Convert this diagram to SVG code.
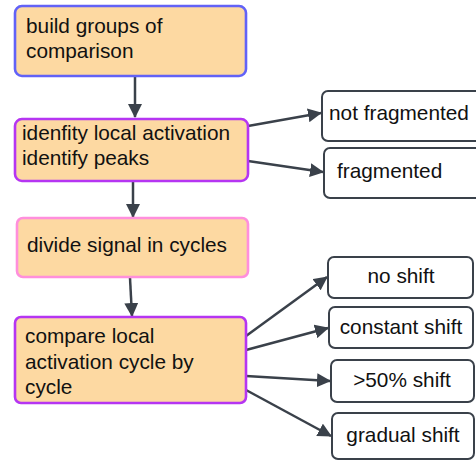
<svg xmlns="http://www.w3.org/2000/svg" width="476" height="462" viewBox="0 0 476 462">
<style>
text{font-family:"Liberation Sans",Arial,sans-serif;font-size:20.8px;fill:#111}
.main{fill:#fdd9a2;stroke-width:2.6}
.leaf{fill:#fff;stroke:#3a414a;stroke-width:2}
.c{text-anchor:middle}
.edge{stroke:#3a414a;stroke-width:2.5;fill:none;marker-end:url(#ah)}
</style>
<defs>
<marker id="ah" viewBox="0 0 14 14" refX="13" refY="7" markerWidth="14" markerHeight="14" markerUnits="userSpaceOnUse" orient="auto">
<path d="M0,0 L14,7 L0,14 z" fill="#3a414a"/>
</marker>
</defs>
<g id="connectors">
<line class="edge" x1="135" y1="77" x2="135" y2="117"/>
<line class="edge" x1="133" y1="182" x2="133" y2="217"/>
<line class="edge" x1="130" y1="278" x2="132" y2="316"/>
<line class="edge" x1="248" y1="126" x2="321" y2="113"/>
<line class="edge" x1="248" y1="161" x2="323" y2="172"/>
<line class="edge" x1="246" y1="336" x2="327" y2="277"/>
<line class="edge" x1="246" y1="350" x2="328" y2="328"/>
<line class="edge" x1="246" y1="376" x2="330" y2="381"/>
<line class="edge" x1="246" y1="390" x2="331" y2="436"/>
</g>
<g id="n1"><rect class="main" x="15" y="6" width="231" height="70" rx="7" stroke="#6262f7"/>
<text x="26" y="33">build groups of</text><text x="26" y="58">comparison</text></g>
<g id="n2"><rect class="main" x="15" y="119" width="233" height="62" rx="7" stroke="#b535f2"/>
<text x="22" y="140">idenfity local activation</text><text x="22" y="165">identify peaks</text></g>
<g id="n3"><rect class="main" x="17" y="218" width="231" height="59" rx="6" stroke="#ff8fdc" fill="#fddaab"/>
<text x="27" y="252">divide signal in cycles</text></g>
<g id="n4"><rect class="main" x="15" y="317" width="231" height="86" rx="6" stroke="#b535f2"/>
<text x="25" y="343">compare local</text><text x="25" y="369">activation cycle by</text><text x="25" y="394">cycle</text></g>
<g id="n5"><rect class="leaf" x="322" y="91" width="170" height="50" rx="6"/><text x="329" y="120">not fragmented</text></g>
<g id="n6"><rect class="leaf" x="324" y="148" width="170" height="50" rx="6"/><text x="337" y="178">fragmented</text></g>
<g id="n7"><rect class="leaf" x="328" y="257" width="145" height="41" rx="6"/><text class="c" x="401" y="283">no shift</text></g>
<g id="n8"><rect class="leaf" x="329" y="307" width="144" height="41" rx="6"/><text class="c" x="401" y="334">constant shift</text></g>
<g id="n9"><rect class="leaf" x="331" y="360" width="143" height="42" rx="6"/><text class="c" x="402" y="387">&gt;50% shift</text></g>
<g id="n10"><rect class="leaf" x="332" y="413" width="142" height="46" rx="6"/><text class="c" x="403" y="442">gradual shift</text></g>
</svg>
